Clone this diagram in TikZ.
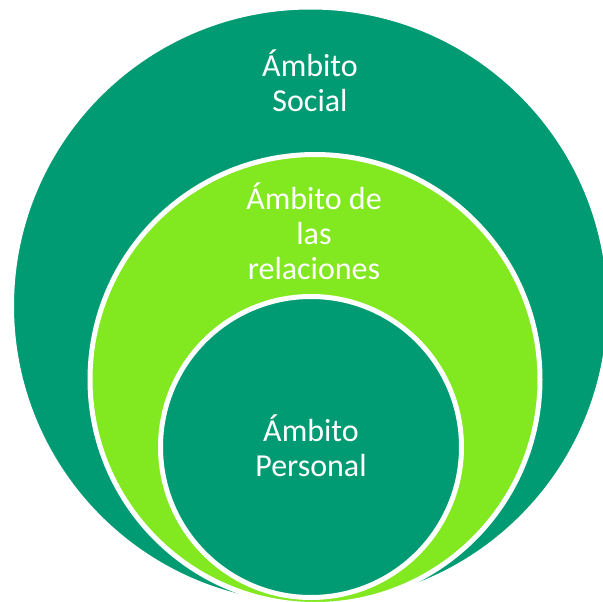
\documentclass[tikz,border=0pt]{standalone}
\usepackage{fontspec}
\setmainfont{Carlito}
\definecolor{dkgreen}{RGB}{0,155,115}
\definecolor{ltgreen}{RGB}{130,232,32}
\begin{document}
\begin{tikzpicture}[x=1pt,y=-1pt,
  ring/.style={circle, draw=white, line width=5pt, inner sep=0pt},
  lbl/.style={text=white, align=center, inner sep=0pt, font=\fontsize{32}{35}\selectfont}]
\useasboundingbox (0,0) rectangle (603,602);
\begin{scope}
\clip (0,0) rectangle (603,602);
\node[ring, fill=dkgreen, minimum size=598pt] (outer) at (310.5,306) {};
\node[ring, fill=ltgreen, minimum size=450pt] (middle) at (315,379.5) {};
\node[ring, fill=dkgreen, minimum size=301pt] (inner) at (311,447) {};
\end{scope}
\node[lbl] (tsocial) at (310,81) {Ámbito\\Social};
\node[lbl] (trel) at (314,231) {Ámbito de\\las\\relaciones};
\node[lbl] (tpers) at (311,446) {Ámbito\\Personal};
\end{tikzpicture}
\end{document}
